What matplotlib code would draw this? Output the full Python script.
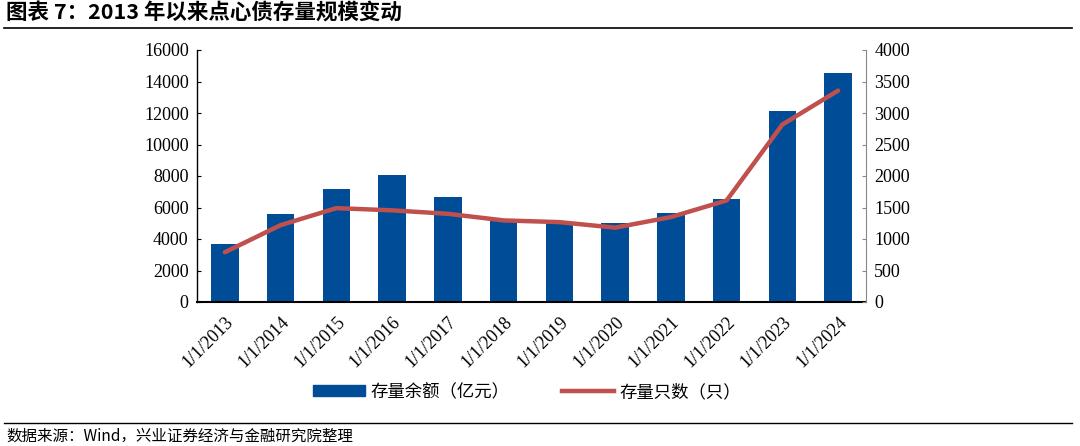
import matplotlib
matplotlib.use("Agg")
import matplotlib.pyplot as plt
from matplotlib.lines import Line2D
from matplotlib.patches import Patch
import numpy as np

categories = ["1/1/2013", "1/1/2014", "1/1/2015", "1/1/2016", "1/1/2017", "1/1/2018",
              "1/1/2019", "1/1/2020", "1/1/2021", "1/1/2022", "1/1/2023", "1/1/2024"]
balance = [3700, 5600, 7200, 8050, 6650, 5150, 5100, 5000, 5650, 6550, 12100, 14550]
count = [790, 1220, 1490, 1455, 1400, 1295, 1268, 1180, 1348, 1612, 2817, 3356]
left_ticks = [0, 2000, 4000, 6000, 8000, 10000, 12000, 14000, 16000]
right_ticks = [0, 500, 1000, 1500, 2000, 2500, 3000, 3500, 4000]

CJK = ["Noto Sans CJK SC", "DejaVu Sans"]
SERIF = ["Liberation Serif", "DejaVu Serif"]
plt.rcParams["font.family"] = SERIF
BLUE = "#004C97"
RED = "#C0504D"

fig = plt.figure(figsize=(10.8, 4.46), dpi=100)
ax = fig.add_axes([197/1080, 1-302/446, (866-197)/1080, (302-50)/446])
x = np.arange(len(categories))
ax.bar(x, balance, width=0.49, color=BLUE, zorder=2)
ax.set_xlim(-0.5, len(categories)-0.5)
ax.set_ylim(0, 16000)
ax.set_yticks(left_ticks)
ax.set_yticklabels([str(t) for t in left_ticks])
ax.set_xticks(x)
ax.set_xticklabels(categories, rotation=45, ha="right", va="top", rotation_mode="anchor")
for lab in ax.get_xticklabels() + ax.get_yticklabels():
    lab.set_fontfamily(SERIF)
    lab.set_fontsize(13)
ax.tick_params(axis="x", length=0, pad=8)
ax.tick_params(axis="y", direction="in", length=3, pad=6)
ax.spines["top"].set_visible(False)
ax.spines["right"].set_visible(False)
ax.spines["bottom"].set_linewidth(1.5)
ax.spines["left"].set_linewidth(1.0)

ax2 = ax.twinx()
ax2.plot(x, count, color=RED, linewidth=3.2, zorder=3, solid_capstyle="round")
ax2.set_ylim(0, 4000)
ax2.set_yticks(right_ticks)
ax2.set_yticklabels([str(t) for t in right_ticks])
for lab in ax2.get_yticklabels():
    lab.set_fontfamily(SERIF)
    lab.set_fontsize(13)
ax2.tick_params(axis="y", direction="in", length=3, pad=6, color="#888888")
ax2.spines["top"].set_visible(False)
ax2.spines["left"].set_visible(False)
ax2.spines["bottom"].set_visible(False)
ax2.spines["right"].set_color("#888888")

handles = [Patch(facecolor=BLUE, edgecolor=BLUE),
           Line2D([0], [0], color=RED, linewidth=3.2)]
labels = ["存量余额（亿元）", "存量只数（只）"]
fig.legend(handles, labels, loc="center", bbox_to_anchor=(527/1080, 1-392/446), ncol=2,
           frameon=False, prop={"family": CJK, "size": 12.5}, handlelength=3.0,
           handleheight=0.6, columnspacing=3.0, handletextpad=0.3)

fig.text(6/1080, 1-13/446, "图表 7：2013 年以来点心债存量规模变动", fontfamily=CJK,
         fontsize=15.5, fontweight="bold", ha="left", va="center")
fig.add_artist(Line2D([4/1080, 1072/1080], [1-28/446, 1-28/446], color="black", linewidth=1.2))
fig.add_artist(Line2D([4/1080, 1072/1080], [1-423/446, 1-423/446], color="black", linewidth=1.0))
fig.text(6/1080, 1-436/446, "数据来源：Wind，兴业证券经济与金融研究院整理", fontfamily=CJK,
         fontsize=11.2, ha="left", va="center")

fig.savefig("out.png", dpi=100)
